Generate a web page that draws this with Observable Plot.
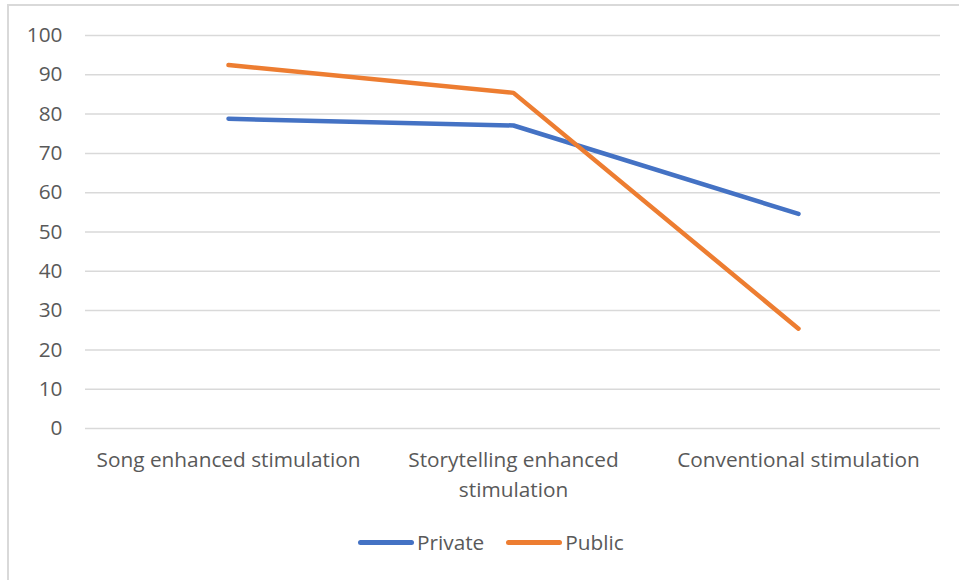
<!DOCTYPE html>
<html>
<head>
<meta charset="utf-8">
<script src="https://cdn.jsdelivr.net/npm/d3@7"></script>
<script src="https://cdn.jsdelivr.net/npm/@observablehq/plot@0.6"></script>
<style>
  html, body { margin: 0; padding: 0; background: #fff; width: 959px; height: 580px; overflow: hidden; }
  #frame { position: absolute; left: 7px; top: 4px; width: 990px; height: 620px; border: 2px solid #d9d9d9; box-sizing: border-box; }
  #chart { position: absolute; left: 0; top: 0; }
  #legend { position: absolute; left: 358px; top: 528px; display: flex; align-items: center; font-family: "Open Sans", Lato, sans-serif; font-size: 20.8px; color: #595959; }
  .sw { width: 56px; height: 5px; border-radius: 3px; margin-right: 3px; }
  .item { display: flex; align-items: center; margin-right: 22px; }
</style>
</head>
<body>
<div id="frame"></div>
<div id="chart"></div>
<div id="legend"></div>
<script>
const categories = ["Song enhanced stimulation", "Storytelling enhanced stimulation", "Conventional stimulation"];
const categoryLabels = ["Song enhanced stimulation", "Storytelling enhanced\nstimulation", "Conventional stimulation"];
const seriesNames = ["Private", "Public"];
const privateValues = [78.8, 77.1, 54.6];
const publicValues = [92.5, 85.4, 25.4];
const seriesColors = ["#4472C4", "#ED7D31"];
const yTicks = [0, 10, 20, 30, 40, 50, 60, 70, 80, 90, 100];

const data = [];
categories.forEach((c, i) => {
  data.push({category: c, series: "Private", value: privateValues[i]});
  data.push({category: c, series: "Public", value: publicValues[i]});
});
const labelOf = new Map(categories.map((c, i) => [c, categoryLabels[i]]));

const chart = Plot.plot({
  width: 959,
  height: 510,
  marginLeft: 85,
  marginRight: 19,
  marginTop: 35,
  marginBottom: 82,
  style: {fontFamily: "'Open Sans', Lato, sans-serif", fontSize: "20.8px", color: "#595959", background: "transparent"},
  x: {type: "point", domain: categories, padding: 0.5, label: null},
  y: {domain: [0, 100], label: null},
  color: {domain: seriesNames, range: seriesColors},
  marks: [
    Plot.gridY(yTicks, {stroke: "#d9d9d9", strokeOpacity: 1, strokeWidth: 1.5}),
    Plot.axisY(yTicks, {tickSize: 0, tickPadding: 23, fill: "#595959", fontSize: 20.8, label: null}),
    Plot.axisX({tickSize: 0, tickPadding: 18, fill: "#595959", fontSize: 20.8, label: null, tickFormat: d => labelOf.get(d), lineHeight: 1.42}),
    Plot.line(data, {x: "category", y: "value", z: "series", stroke: "series", strokeWidth: 4.5, strokeLinecap: "round", strokeLinejoin: "round"})
  ]
});
document.getElementById("chart").appendChild(chart);

const legend = document.getElementById("legend");
seriesNames.forEach((s, i) => {
  const it = document.createElement("div");
  it.className = "item";
  const sw = document.createElement("div");
  sw.className = "sw";
  sw.style.background = seriesColors[i];
  const t = document.createElement("span");
  t.textContent = s;
  it.appendChild(sw); it.appendChild(t);
  legend.appendChild(it);
});
</script>
</body>
</html>
